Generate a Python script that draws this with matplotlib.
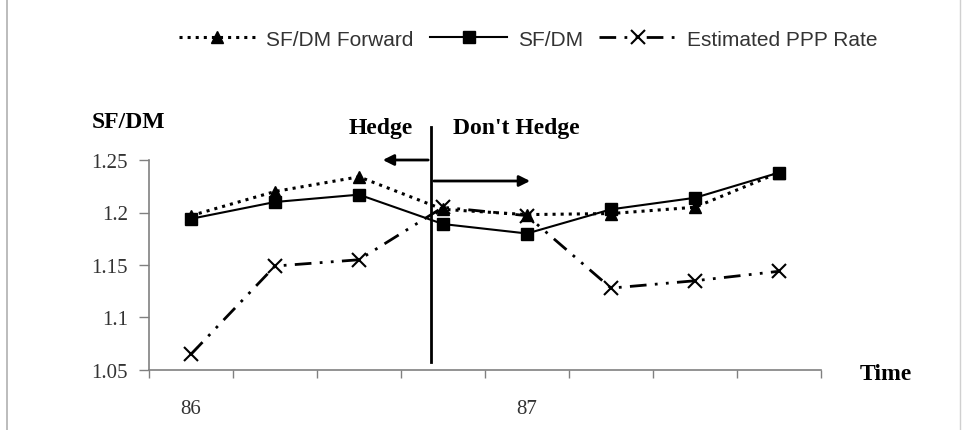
import matplotlib.pyplot as plt
from matplotlib.lines import Line2D

# quarterly periods, only the year starts get a label
periods = ['86', '', '', '', '87', '', '', '']
sfdm_forward = [1.197, 1.220, 1.234, 1.203, 1.198, 1.199, 1.205, 1.238]
sfdm_spot = [1.194, 1.210, 1.217, 1.189, 1.180, 1.203, 1.214, 1.238]
ppp_rate = [1.065, 1.149, 1.155, 1.205, 1.197, 1.128, 1.135, 1.144]
y_ticks = [1.05, 1.1, 1.15, 1.2, 1.25]
y_tick_labels = ['1.05', '1.1', '1.15', '1.2', '1.25']

serif = ['Liberation Serif', 'DejaVu Serif']
sans = ['Liberation Sans', 'DejaVu Sans']

fig = plt.figure(figsize=(9.67, 4.31), dpi=100)
ax = fig.add_axes([149 / 967, 1 - 371 / 431, (821 - 149) / 967, (371 - 161) / 431])

x = list(range(len(periods)))
ax.plot(x, sfdm_forward, linestyle=':', color='black', lw=2.2, marker='^', markersize=9,
        label='SF/DM Forward', zorder=3)
ax.plot(x, sfdm_spot, linestyle='-', color='black', lw=1.5, marker='s', markersize=8,
        label='SF/DM', zorder=4)
ax.plot(x, ppp_rate, color='black', lw=2, dashes=(6, 3, 1, 3, 1, 3), marker='x', markersize=10,
        markeredgewidth=1.5, label='Estimated PPP Rate', zorder=5)

ax.set_xlim(-0.5, len(periods) - 0.5)
ax.set_ylim(1.05, 1.25)

# hedge / don't hedge divider
split = 2.857
ax.plot([split, split], [1.0576, 1.2814], color='black', lw=2, clip_on=False, zorder=6)
ax.annotate('', xy=(2.25, 1.25), xytext=(split, 1.25),
            arrowprops=dict(arrowstyle='-|>', color='black', lw=2, mutation_scale=16), annotation_clip=False)
ax.annotate('', xy=(4.07, 1.23), xytext=(split, 1.23),
            arrowprops=dict(arrowstyle='-|>', color='black', lw=2, mutation_scale=16), annotation_clip=False)
ax.text(2.262, 1.2814, 'Hedge', ha='center', va='center', fontsize=17, fontweight='bold',
        family=serif, clip_on=False)
ax.text(3.119, 1.2814, "Don't Hedge", ha='left', va='center', fontsize=17, fontweight='bold',
        family=serif, clip_on=False)

# axes styling
for side in ['top', 'right']:
    ax.spines[side].set_visible(False)
for side in ['left', 'bottom']:
    ax.spines[side].set_color('#808080')
    ax.spines[side].set_linewidth(1.2)

ax.set_yticks(y_ticks)
ax.set_yticklabels(y_tick_labels, family=serif, fontsize=15, color='#333333')
ax.tick_params(axis='y', direction='out', length=7, width=1, color='#808080', pad=8)

ax.set_xticks([i - 0.5 for i in range(len(periods) + 1)])
ax.set_xticklabels([])
ax.tick_params(axis='x', which='major', direction='out', length=6, width=1, color='#808080')
ax.set_xticks(x, minor=True)
ax.set_xticklabels(periods, minor=True, family=serif, fontsize=15, color='#333333')
ax.tick_params(axis='x', which='minor', length=0, pad=21)

fig.text(92 / 967, 1 - 123 / 431, 'SF/DM', ha='left', va='center', fontsize=17,
         fontweight='bold', family=serif)
fig.text(886 / 967, 1 - 374 / 431, 'Time', ha='center', va='center', fontsize=17,
         fontweight='bold', family=serif)

fig.legend(loc='center', bbox_to_anchor=(528 / 967, 1 - 40 / 431), ncol=3, frameon=False,
           prop={'family': sans, 'size': 15}, handlelength=3.7, handletextpad=0.5,
           columnspacing=0.8, labelcolor='#333333')

# thin frame lines at the picture edges
fig.add_artist(Line2D([7 / 967, 7 / 967], [0, 1], color='#b0b0b0', lw=1.2, transform=fig.transFigure))
fig.add_artist(Line2D([960 / 967, 960 / 967], [0, 1], color='#d0d0d0', lw=1.0, transform=fig.transFigure))

fig.savefig('out.png', dpi=100)
